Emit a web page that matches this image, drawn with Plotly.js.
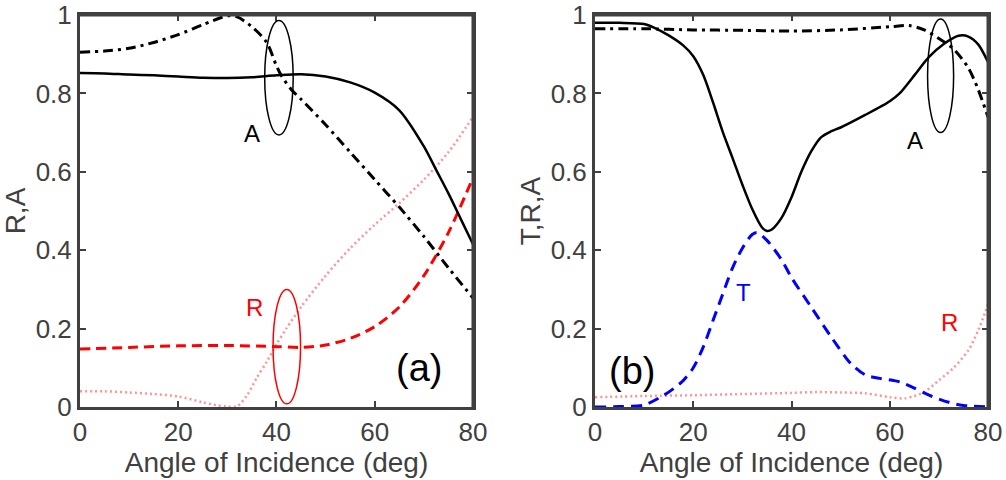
<!DOCTYPE html>
<html>
<head>
<meta charset="utf-8">
<script src="https://cdn.plot.ly/plotly-3.0.1.min.js"></script>
<style>
html,body{margin:0;padding:0;background:#fff;}
#chart{width:1006px;height:480px;}
</style>
</head>
<body>
<div id="chart"></div>
<script>
// ---------- Panel (a) ----------
const aSolidX = [0,5,10,15,20,25,30,35,40,45,50,55,60,65,70,72.5,75,77.5,80];
const aSolidY = [0.852,0.851,0.848,0.846,0.843,0.840,0.839,0.841,0.846,0.849,0.843,0.828,0.802,0.757,0.665,0.605,0.545,0.480,0.415];

const aDashDotX = [0,5,10,15,20,25,30,32,35,38,40,41,43,45,50,55,60,65,70,75,80];
const aDashDotY = [0.905,0.908,0.915,0.930,0.950,0.975,0.998,0.995,0.970,0.930,0.870,0.845,0.810,0.785,0.720,0.650,0.580,0.510,0.435,0.355,0.278];

const aDashX = [0,10,20,30,40,45,50,55,60,65,70,75,80];
const aDashY = [0.148,0.152,0.156,0.157,0.154,0.152,0.158,0.175,0.205,0.255,0.335,0.445,0.585];

const aDotX = [0,5,10,15,20,25,28,30,32,34,36,38,40,42,45,50,55,60,65,70,75,80];
const aDotY = [0.040,0.040,0.037,0.033,0.027,0.012,0.004,0.001,0.002,0.030,0.075,0.115,0.160,0.200,0.255,0.335,0.405,0.465,0.520,0.580,0.650,0.740];

// ---------- Panel (b) ----------
const bSolidX = [0,5,10,12,15,18,20,22,24,26,28,30,32,34,35,36,38,40,42,44,46,48,50,55,60,62,65,68,71,74,76,78,80];
const bSolidY = [0.980,0.980,0.977,0.968,0.948,0.922,0.895,0.848,0.778,0.702,0.635,0.567,0.505,0.458,0.449,0.453,0.483,0.535,0.600,0.652,0.688,0.703,0.713,0.745,0.780,0.800,0.846,0.893,0.926,0.947,0.945,0.925,0.880];

const bDashDotX = [0,10,20,30,40,50,60,64,67,70,73,76,78,80];
const bDashDotY = [0.965,0.965,0.962,0.961,0.959,0.962,0.970,0.973,0.962,0.940,0.913,0.865,0.810,0.740];

const bTX = [0,5,10,14,16,18,20,22,24,26,28,30,32,33,35,38,40,44,48,52,55,58,62,65,68,72,75,80];
const bTY = [0,0.001,0.005,0.030,0.047,0.068,0.100,0.152,0.220,0.288,0.355,0.405,0.440,0.445,0.425,0.375,0.330,0.255,0.180,0.112,0.082,0.073,0.064,0.048,0.030,0.012,0.004,0];

const bRX = [0,10,20,30,40,45,50,55,60,63,65,67,70,73,76,78,80];
const bRY = [0.025,0.028,0.030,0.033,0.036,0.038,0.037,0.035,0.025,0.022,0.028,0.038,0.068,0.100,0.145,0.195,0.262];

const xTicks = [0,20,40,60,80];
const yTicks = [0,0.2,0.4,0.6,0.8,1];
const yTickText = ['0','0.2','0.4','0.6','0.8','1'];
const xTitle = 'Angle of Incidence (deg)';
const yTitleA = 'R,A';
const yTitleB = 'T,R,A';

const FONT = 'Liberation Sans, Arial, Helvetica, sans-serif';
const AX = '#404040';
const DOM_A = [0, 0.4328];
const DOM_B = [0.5672, 1];

function line(x, y, xa, ya, color, width, dash) {
  return {x: x, y: y, xaxis: xa, yaxis: ya, type: 'scatter', mode: 'lines',
          line: {color: color, width: width, dash: dash, shape: 'spline', smoothing: 0.8},
          hoverinfo: 'skip', showlegend: false};
}

const dashDot = '10px,5px,3px,5px';
const dashRed = '10px,6px';
const dotted = '2px,3px';
const dotColor = 'rgba(255,60,60,0.55)';

const data = [
  line(aDotX, aDotY, 'x', 'y', dotColor, 2.5, dotted),
  line(aDashX, aDashY, 'x', 'y', '#ff0000', 3, dashRed),
  line(aDashDotX, aDashDotY, 'x', 'y', '#000000', 3, dashDot),
  line(aSolidX, aSolidY, 'x', 'y', '#000000', 2.5, 'solid'),
  line(bRX, bRY, 'x2', 'y2', dotColor, 2.5, dotted),
  line(bTX, bTY, 'x2', 'y2', '#0000ff', 3, '11px,7px'),
  line(bDashDotX, bDashDotY, 'x2', 'y2', '#000000', 3, dashDot),
  line(bSolidX, bSolidY, 'x2', 'y2', '#000000', 2.5, 'solid')
];

const common = {showline: true, linecolor: AX, linewidth: 3, mirror: 'ticks',
  ticks: 'inside', ticklen: 6, tickwidth: 2, tickcolor: AX,
  showgrid: false, zeroline: false, tickmode: 'array'};

function xAxis(domain, anchor) {
  return Object.assign({}, common, {domain: domain, anchor: anchor, range: [0, 80], tickvals: xTicks,
    tickfont: {family: FONT, size: 26, color: AX}, ticklabeloverflow: 'allow',
    title: {text: xTitle, font: {family: FONT, size: 28, color: AX}, standoff: 4}});
}
function yAxis(anchor, title) {
  return Object.assign({}, common, {domain: [0, 1], anchor: anchor, range: [0, 1],
    tickvals: yTicks, ticktext: yTickText,
    tickfont: {family: FONT, size: 26, color: AX}, ticklabeloverflow: 'allow',
    title: {text: title, font: {family: FONT, size: 28, color: AX}, standoff: 2}});
}

function ann(xref, yref, x, y, text, color, size) {
  return {xref: xref, yref: yref, x: x, y: y, text: text, showarrow: false,
          font: {family: FONT, size: size, color: color}, xanchor: 'center', yanchor: 'middle'};
}
function ell(xref, yref, x0, x1, y0, y1, color) {
  return {type: 'circle', xref: xref, yref: yref, x0: x0, x1: x1, y0: y0, y1: y1,
          line: {color: color, width: 1.5}};
}
function frame(dom) {
  return [
    {type: 'line', xref: 'paper', yref: 'paper', x0: dom[0], x1: dom[1], y0: 1, y1: 1, layer: 'above', line: {color: AX, width: 3}},
    {type: 'line', xref: 'paper', yref: 'paper', x0: dom[1], x1: dom[1], y0: 0, y1: 1, layer: 'above', line: {color: AX, width: 3}}
  ];
}

const layout = {
  width: 1006, height: 480,
  margin: {l: 80, r: 18, t: 15, b: 73},
  paper_bgcolor: '#ffffff', plot_bgcolor: '#ffffff',
  showlegend: false,
  font: {family: FONT},
  xaxis: xAxis(DOM_A, 'y'),
  yaxis: yAxis('x', yTitleA),
  xaxis2: xAxis(DOM_B, 'y2'),
  yaxis2: yAxis('x2', yTitleB),
  shapes: [
    ell('x', 'y', 37.6, 43.4, 0.694, 0.986, '#000000'),
    ell('x', 'y', 39.3, 44.9, 0.008, 0.300, '#ff0000'),
    ell('x2', 'y2', 67.7, 73.0, 0.700, 0.990, '#000000')
  ].concat(frame(DOM_A), frame(DOM_B)),
  annotations: [
    ann('x', 'y', 35.1, 0.698, 'A', '#000000', 24),
    ann('x', 'y', 35.6, 0.254, 'R', '#ff0000', 24),
    ann('x', 'y', 69, 0.10, '(a)', '#000000', 38),
    ann('x2', 'y2', 65.1, 0.681, 'A', '#000000', 24),
    ann('x2', 'y2', 30.2, 0.292, 'T', '#0000ff', 24),
    ann('x2', 'y2', 72.2, 0.216, 'R', '#ff0000', 24),
    ann('x2', 'y2', 7.5, 0.093, '(b)', '#000000', 38)
  ]
};

Plotly.newPlot('chart', data, layout, {displayModeBar: false, staticPlot: true});
</script>
</body>
</html>
